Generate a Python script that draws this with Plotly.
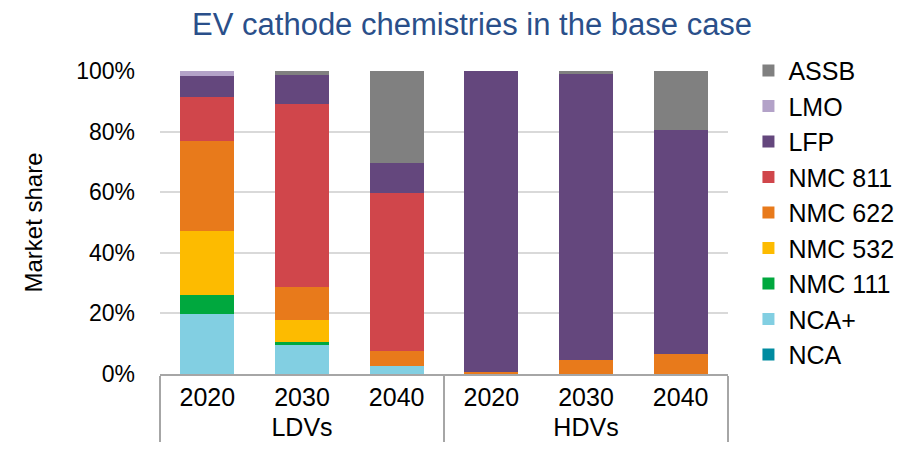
import plotly.graph_objects as go

groups = ["LDVs", "LDVs", "LDVs", "HDVs", "HDVs", "HDVs"]
years = ["2020", "2030", "2040", "2020", "2030", "2040"]

# stack order bottom -> top
series_names = ["NCA", "NCA+", "NMC 111", "NMC 532", "NMC 622", "NMC 811", "LFP", "LMO", "ASSB"]
nca = [0.0, 0.0, 0.0, 0.0, 0.0, 0.0]
nca_plus = [19.7, 9.6, 2.6, 0.0, 0.0, 0.0]
nmc111 = [6.4, 1.0, 0.0, 0.0, 0.0, 0.0]
nmc532 = [21.1, 7.1, 0.0, 0.0, 0.0, 0.0]
nmc622 = [29.8, 10.9, 5.0, 0.7, 4.5, 6.5]
nmc811 = [14.4, 60.4, 52.1, 0.0, 0.0, 0.0]
lfp = [6.8, 9.8, 10.0, 99.3, 94.6, 74.1]
lmo = [1.8, 0.0, 0.0, 0.0, 0.0, 0.0]
assb = [0.0, 1.2, 30.3, 0.0, 0.9, 19.4]

series_values = [nca, nca_plus, nmc111, nmc532, nmc622, nmc811, lfp, lmo, assb]
colors = ["#008ba0", "#82cfe2", "#00a83e", "#fdbb00", "#e87a1b", "#d0464b", "#64477d", "#b3a2c8", "#808080"]

FONT = "Liberation Sans, Arial, sans-serif"

fig = go.Figure()
n = len(series_names)
for i, (name, vals, col) in enumerate(zip(series_names, series_values, colors)):
    fig.add_trace(go.Bar(
        x=[groups, years],
        y=[v / 100 for v in vals],
        name=name,
        legendgroup=name,
        legendrank=n - i,
        marker=dict(color=col, line=dict(width=0)),
        hoverinfo="skip",
    ))

fig.update_layout(
    width=910, height=449,
    barmode="stack",
    bargap=0.43,
    paper_bgcolor="white",
    plot_bgcolor="white",
    margin=dict(l=152, r=190, t=63, b=83, autoexpand=False),
    font=dict(family=FONT, color="#000000", size=23),
    title=dict(
        text="EV cathode chemistries in the base case",
        font=dict(family=FONT, size=31, color="#2a4f8a"),
        x=0.51, xref="container", xanchor="center",
        y=0.965, yref="container", yanchor="middle",
    ),
    legend=dict(
        x=1.036, xanchor="left", y=1.077, yanchor="top",
        traceorder="grouped",
        tracegroupgap=0,
        font=dict(family=FONT, size=25, color="#000000"),
        itemwidth=30,
        maxheight=440,
    ),
    showlegend=True,
)

fig.update_yaxes(
    range=[0, 1],
    dtick=0.2,
    tickformat=".0%",
    showgrid=True,
    gridcolor="#d9d9d9",
    gridwidth=2,
    zeroline=False,
    showline=False,
    ticks="",
    ticklabelstandoff=24,
    tickfont=dict(family=FONT, size=23, color="#000000"),
    title=dict(text="Market share", font=dict(family=FONT, size=24, color="#000000"), standoff=26),
)
fig.update_xaxes(
    type="multicategory",
    showline=True,
    linecolor="#a6a6a6",
    linewidth=2,
    showdividers=True,
    dividercolor="#a6a6a6",
    dividerwidth=2,
    tickfont=dict(family=FONT, size=25, color="#000000"),
    ticks="",
)

fig.write_html("out.html")
